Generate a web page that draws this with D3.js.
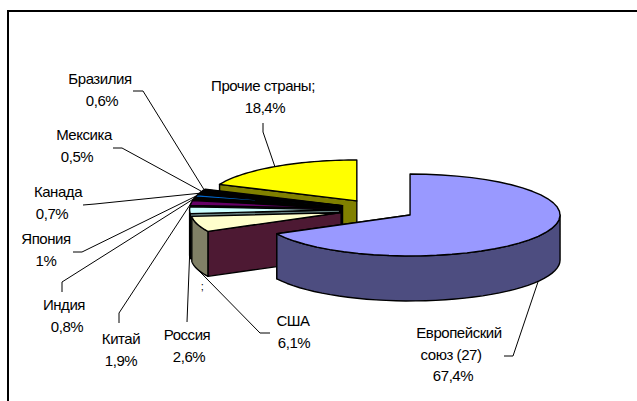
<!DOCTYPE html>
<html>
<head>
<meta charset="utf-8">
<script src="https://cdn.jsdelivr.net/npm/d3@7"></script>
<style>
  html, body { margin: 0; padding: 0; background: #fff; }
  svg { display: block; }
</style>
</head>
<body>
<div id="chart"></div>
<script>
// slices, clockwise from 12 o'clock
const names = ["Европейский союз (27)", "США", "Россия", "Китай", "Индия", "Япония", "Канада", "Мексика", "Бразилия", "Прочие страны"];
const shares = [67.4, 6.1, 2.6, 1.9, 0.8, 1, 0.7, 0.5, 0.6, 18.4];
const shareLabels = ["67,4%", "6,1%", "2,6%", "1,9%", "0,8%", "1%", "0,7%", "0,5%", "0,6%", "18,4%"];
const topColors = ["#9999ff", "#ffffcc", "#ccffff", "#660066", "#000000", "#0066cc", "#000000", "#000080", "#000000", "#ffff00"];
const wallColors = ["#4d4d80", "#4d1933", "#668080", "#330033", "#000000", "#003366", "#000000", "#000040", "#000000", "#808000"];
const arcWallColors = ["#4d4d80", "#808066", "#000000", "#000000", "#000000", "#000000", "#000000", "#000000", "#000000", "#808000"];

const width = 637, height = 401;
const center = { x: 377.6, y: 209.6 };
const radius = 150, squash = 0.273, depth = 45, explode = 38;

// label block, one centre x per line, and leader elbow, one per slice
const labelLayout = [
  { y: 338, lines: ["Европейский", "союз (27)"], xs: [459, 451, 453], elbow: [[504, 356], [513, 356]] },
  { y: 326, lines: ["США"], xs: [293, 294], elbow: [[270, 333], [260, 333]] },
  { y: 340, lines: ["Россия"], xs: [187, 189], elbow: [[187, 322]] },
  { y: 344, lines: ["Китай"], xs: [121, 121], elbow: [[119, 323], [119, 313]] },
  { y: 310, lines: ["Индия"], xs: [64, 67], elbow: [[62, 292], [62, 282]] },
  { y: 244, lines: ["Япония"], xs: [46, 46], elbow: [[73, 252], [82, 252]] },
  { y: 197, lines: ["Канада"], xs: [58, 52], elbow: [[83, 205], [95, 204]] },
  { y: 140, lines: ["Мексика"], xs: [84, 77], elbow: [[113, 148], [122, 148]] },
  { y: 84, lines: ["Бразилия"], xs: [100, 102], elbow: [[133, 91], [143, 91]] },
  { y: 91, lines: ["Прочие страны;"], xs: [263, 265], elbow: [[263, 123], [263, 132]] }
];

const svg = d3.select("#chart").append("svg")
  .attr("width", width)
  .attr("height", height);

// frame runs off the bottom and right of the picture
svg.append("path")
  .attr("d", `M8,${height} V11 H${width}`)
  .attr("fill", "none")
  .attr("stroke", "#000")
  .attr("stroke-width", 2);

const pie = d3.pie().sort(null).value(d => d)(shares);

// screen point for an angle on a slice, clockwise from 12 o'clock
const apexOf = d => {
  const mid = (d.startAngle + d.endAngle) / 2;
  return {
    x: center.x + explode * Math.sin(mid),
    y: center.y - explode * Math.cos(mid) * squash
  };
};
const rim = (apex, a) => [apex.x + radius * Math.sin(a), apex.y - radius * Math.cos(a) * squash];

const rimPoints = (apex, a0, a1) => d3.range(0, 41).map(i => rim(apex, a0 + (a1 - a0) * i / 40));
const line = d3.line();

const slices = pie.map((d, i) => ({ ...d, i, apex: apexOf(d) }));

// painter's order: yellow at the back, then small slices, EU on top
const drawOrder = [9, 8, 7, 6, 5, 4, 3, 2, 1, 0];
const pieGroup = svg.append("g")
  .attr("stroke", "#000")
  .attr("stroke-width", 1.4)
  .attr("stroke-linejoin", "round");

drawOrder.forEach(i => {
  const d = slices[i];
  const a = d.apex;
  const g = pieGroup.append("g");

  // radial cut wall on the lower edge
  const edge = d.i === 0 ? d.endAngle : d.startAngle;
  const p = rim(a, edge);
  g.append("path")
    .attr("d", line([[a.x, a.y], p, [p[0], p[1] + depth], [a.x, a.y + depth]]) + "Z")
    .attr("fill", wallColors[i]);

  // outer wall, front half of the ellipse only
  const lo = d.i === 0 ? Math.PI / 2 : d.startAngle;
  const hi = d.i === 0 ? d.endAngle : Math.min(d.endAngle, 3 * Math.PI / 2);
  if (hi > lo) {
    const outer = rimPoints(a, lo, hi);
    const lower = outer.map(q => [q[0], q[1] + depth]).reverse();
    g.append("path")
      .attr("d", line(outer.concat(lower)) + "Z")
      .attr("fill", arcWallColors[i]);
  }

  // top face
  g.append("path")
    .attr("d", line([[a.x, a.y]].concat(rimPoints(a, d.startAngle, d.endAngle))) + "Z")
    .attr("fill", topColors[i]);
});

// leader lines
const leaders = svg.append("g")
  .attr("fill", "none")
  .attr("stroke", "#000")
  .attr("stroke-width", 1);

slices.forEach(d => {
  const mid = (d.startAngle + d.endAngle) / 2;
  const end = rim(d.apex, mid);
  if (Math.cos(mid) < 0) end[1] += depth;
  leaders.append("path").attr("d", line(labelLayout[d.i].elbow.concat([end])));
});

// labels
const labels = svg.append("g")
  .attr("font-family", "'Liberation Sans', Arial, sans-serif")
  .attr("font-size", 15)
  .attr("letter-spacing", "-0.45px")
  .attr("fill", "#000")
  .attr("text-anchor", "middle");

labelLayout.forEach((l, i) => {
  const rows = l.lines.concat([shareLabels[i]]);
  rows.forEach((row, r) => {
    labels.append("text")
      .attr("x", l.xs[r])
      .attr("y", l.y + r * 21.5)
      .text(row);
  });
});

// stray separator left under the Russia slice
labels.append("text").attr("x", 202).attr("y", 290).attr("font-size", 11).text(";");
</script>
</body>
</html>
